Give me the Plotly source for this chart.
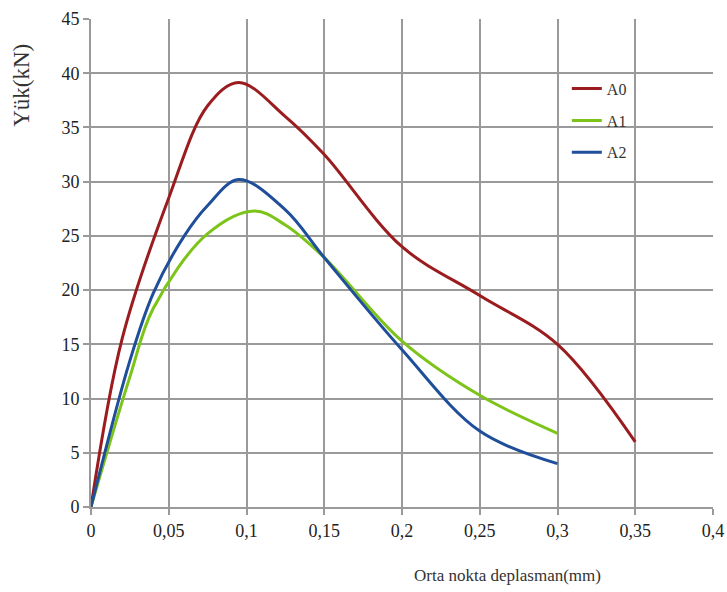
import plotly.graph_objects as go

# Data
x_a0 = [0, 0.02, 0.05, 0.075, 0.095, 0.125, 0.15, 0.2, 0.25, 0.3, 0.35]
y_a0 = [0, 15.5, 28.5, 37.0, 39.15, 36.0, 32.5, 24.0, 19.5, 15.0, 6.0]

x_a1 = [0, 0.025, 0.04, 0.075, 0.105, 0.125, 0.15, 0.2, 0.25, 0.3]
y_a1 = [0, 12, 18.3, 25.2, 27.3, 26.0, 23.0, 15.3, 10.3, 6.8]

x_a2 = [0, 0.025, 0.04, 0.06, 0.075, 0.095, 0.125, 0.15, 0.2, 0.25, 0.3]
y_a2 = [0, 13.5, 19.7, 25, 27.8, 30.2, 27.4, 23.0, 14.5, 7.0, 4.0]

x_tickvals = [0, 0.05, 0.1, 0.15, 0.2, 0.25, 0.3, 0.35, 0.4]
x_ticktext = ["0", "0,05", "0,1", "0,15", "0,2", "0,25", "0,3", "0,35", "0,4"]
y_tickvals = [0, 5, 10, 15, 20, 25, 30, 35, 40, 45]

series = [
    ("A0", x_a0, y_a0, "#9A1C1F"),
    ("A1", x_a1, y_a1, "#7CC41A"),
    ("A2", x_a2, y_a2, "#1F4E9B"),
]

FONT = "Liberation Serif, Times New Roman, serif"

fig = go.Figure()
for name, xs, ys, col in series:
    fig.add_trace(go.Scatter(
        x=xs, y=ys, name=name, mode="lines", legendgroup=name,
        line=dict(color=col, width=3, shape="spline", smoothing=1.0),
    ))

fig.update_layout(
    width=727, height=592,
    margin=dict(l=91, r=14, t=19, b=85),
    paper_bgcolor="white", plot_bgcolor="white",
    font=dict(family=FONT, size=18, color="#222"),
    showlegend=True,
    legend=dict(
        x=0.765, y=0.892, xanchor="left", yanchor="top",
        font=dict(family=FONT, size=16, color="#333"),
        bgcolor="rgba(0,0,0,0)", tracegroupgap=8,
        traceorder="grouped",
    ),
    xaxis=dict(
        range=[0, 0.4], tickvals=x_tickvals, ticktext=x_ticktext,
        showgrid=True, gridcolor="#9a9a9a", gridwidth=2,
        zeroline=False, showline=True, linecolor="#9a9a9a", linewidth=2,
        ticks="outside", ticklen=6, tickcolor="#9a9a9a", tickwidth=2,
        tickfont=dict(family=FONT, size=18, color="#222"),
        fixedrange=True, automargin=False,
    ),
    yaxis=dict(
        range=[0, 45], tickvals=y_tickvals,
        showgrid=True, gridcolor="#9a9a9a", gridwidth=2,
        zeroline=False, showline=True, linecolor="#9a9a9a", linewidth=2,
        ticks="outside", ticklen=6, tickcolor="#9a9a9a", tickwidth=2,
        tickfont=dict(family=FONT, size=18, color="#222"),
        fixedrange=True, automargin=False,
    ),
    annotations=[
        dict(text="Yük(kN)", xref="paper", yref="paper",
             x=-0.111, y=0.865, xanchor="center", yanchor="middle",
             textangle=-90, showarrow=False,
             font=dict(family=FONT, size=23, color="#333")),
        dict(text="Orta nokta deplasman(mm)", xref="paper", yref="paper",
             x=0.670, y=-0.14, xanchor="center", yanchor="middle",
             showarrow=False,
             font=dict(family=FONT, size=17, color="#333")),
    ],
)

fig.write_html("out.html")
